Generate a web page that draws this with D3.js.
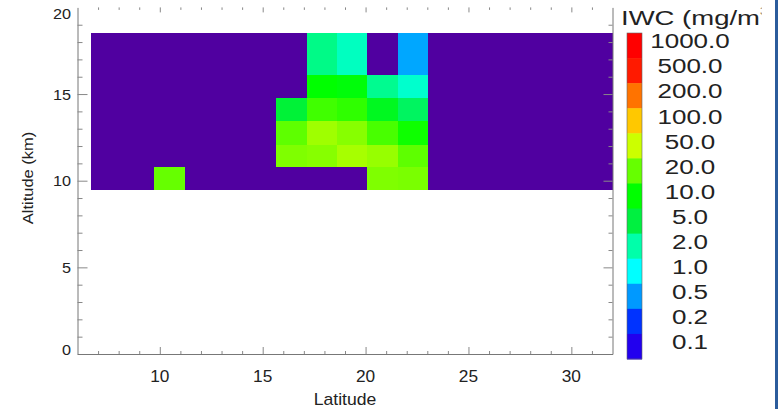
<!DOCTYPE html>
<html>
<head>
<meta charset="utf-8">
<script src="https://cdn.jsdelivr.net/npm/d3@7"></script>
<style>
body { margin: 0; background: #fff; }
svg text { font-family: "Liberation Sans", Arial, sans-serif; fill: #222; }
</style>
</head>
<body>
<div id="chart"></div>
<script>
// latitude / altitude cell edges
var latEdges = [6.65, 8.2, 9.7, 11.2, 12.68, 14.17, 15.65, 17.14, 18.62, 20.08, 21.59, 23.05, 24.55, 26.05, 27.5, 28.97, 30.47, 32.0];
var altEdges = [9.5, 10.8, 12.1, 13.5, 14.8, 16.1, 18.55];

// IWC (mg/m3) per cell, bottom row first, 0 = below scale
var iwcRow0 = [0, 0, 20, 0, 0, 0, 0, 0, 0, 25, 24, 0, 0, 0, 0, 0, 0];
var iwcRow1 = [0, 0, 0, 0, 0, 0, 25, 27, 36, 31, 19, 0, 0, 0, 0, 0, 0];
var iwcRow2 = [0, 0, 0, 0, 0, 0, 19, 33.5, 27, 16.3, 11, 0, 0, 0, 0, 0, 0];
var iwcRow3 = [0, 0, 0, 0, 0, 0, 5.5, 15.5, 13.8, 7.1, 3.8, 0, 0, 0, 0, 0, 0];
var iwcRow4 = [0, 0, 0, 0, 0, 0, 0, 10, 9, 2.5, 1.5, 0, 0, 0, 0, 0, 0];
var iwcRow5 = [0, 0, 0, 0, 0, 0, 0, 2.7, 1.67, 0, 0.55, 0, 0, 0, 0, 0, 0];
var iwcRows = [iwcRow0, iwcRow1, iwcRow2, iwcRow3, iwcRow4, iwcRow5];

// colour bar levels, top to bottom
var levels = [1000, 500, 200, 100, 50, 20, 10, 5, 2, 1, 0.5, 0.2, 0.1];
var levelLabels = ["1000.0", "500.0", "200.0", "100.0", "50.0", "20.0", "10.0", "5.0", "2.0", "1.0", "0.5", "0.2", "0.1"];
var levelColors = ["#ff0000", "#ff1a00", "#ff7300", "#ffc800", "#ccff00", "#66ff00", "#00ff00", "#00f040", "#00ffaa", "#00ffff", "#0099ff", "#0033ff", "#2200ee"];
var lowColor = "#5000a0";

var xMajor = [10, 15, 20, 25, 30];
var yMajor = [0, 5, 10, 15];
var yLabels = [0, 5, 10, 15, 20];

var W = 779, H = 409;
var svg = d3.select("#chart").append("svg").attr("width", W).attr("height", H);

var x = d3.scaleLinear().domain([6, 32]).range([77.5, 612.5]);
var y = d3.scaleLinear().domain([0, 20]).range([354, 7.4]);
var color = d3.scaleLog().domain(levels.slice().reverse()).range(levelColors.slice().reverse()).clamp(true);

var xMinor = d3.range(7, 32).filter(function(v) { return xMajor.indexOf(v) < 0; });
var yMinor = d3.range(1, 20).filter(function(v) { return yMajor.indexOf(v) < 0; });

function stretchText(g, px, py, str, size, sx, anchor) {
	return g.append("text")
		.attr("transform", "translate(" + px + "," + py + ") scale(" + sx + ",1)")
		.attr("text-anchor", anchor)
		.style("font-size", size + "px")
		.text(str);
}

// cells
var cells = [];
iwcRows.forEach(function(row, r) {
	row.forEach(function(v, c) {
		cells.push({ x0: latEdges[c], x1: latEdges[c + 1], y0: altEdges[r], y1: altEdges[r + 1], v: v });
	});
});
var cellFill = function(d) { return d.v > 0 ? color(d.v) : lowColor; };
svg.append("g").attr("shape-rendering", "crispEdges")
	.selectAll("rect").data(cells).enter().append("rect")
	.attr("x", function(d) { return x(d.x0); })
	.attr("y", function(d) { return y(d.y1); })
	.attr("width", function(d) { return x(d.x1) - x(d.x0) + 0.5; })
	.attr("height", function(d) { return y(d.y0) - y(d.y1) + 0.5; })
	.attr("fill", cellFill);

// axes
function styleAxis(g, keepDomain) {
	g.selectAll("line").attr("stroke", "#777");
	g.select(".domain").attr("stroke", keepDomain ? "#777" : "none");
	g.selectAll("text").remove();
}
svg.append("g").attr("transform", "translate(77.5,0)")
	.call(d3.axisLeft(y).tickValues(yMinor).tickSize(-5).tickSizeOuter(0)).call(styleAxis, true);
svg.append("g").attr("transform", "translate(77.5,0)")
	.call(d3.axisLeft(y).tickValues(yMajor).tickSize(-10).tickSizeOuter(0)).call(styleAxis, false);
svg.append("g").attr("transform", "translate(612.5,0)")
	.call(d3.axisRight(y).tickValues(yMinor).tickSize(-4).tickSizeOuter(0)).call(styleAxis, true);
svg.append("g").attr("transform", "translate(612.5,0)")
	.call(d3.axisRight(y).tickValues(yMajor).tickSize(-9).tickSizeOuter(0)).call(styleAxis, false);
svg.append("g").attr("transform", "translate(0,354)")
	.call(d3.axisBottom(x).tickValues(xMinor).tickSize(-3).tickSizeOuter(0)).call(styleAxis, true);
svg.append("g").attr("transform", "translate(0,354)")
	.call(d3.axisBottom(x).tickValues(xMajor).tickSize(-7).tickSizeOuter(0)).call(styleAxis, false);
svg.append("g").attr("transform", "translate(0,7.4)")
	.call(d3.axisTop(x).tickValues(xMinor).tickSize(-2.5).tickSizeOuter(0)).call(styleAxis, false);
svg.append("g").attr("transform", "translate(0,7.4)")
	.call(d3.axisTop(x).tickValues(xMajor).tickSize(-5).tickSizeOuter(0)).call(styleAxis, false);
svg.selectAll("g.tick line").attr("stroke", "#888");

// tick labels
var labels = svg.append("g");
yLabels.forEach(function(v) {
	var off = 5.5;
	if (v === 20) off = 12;
	if (v === 0) off = 1;
	stretchText(labels, 71, y(v) + off, String(v), 14.5, 1.12, "end");
});
xMajor.forEach(function(v) {
	stretchText(labels, x(v), 382.3, String(v), 16, 1.08, "middle");
});
stretchText(labels, 345, 405, "Latitude", 16, 1.1, "middle");
labels.append("text")
	.attr("transform", "translate(33,178) rotate(-90) scale(1.1,1)")
	.attr("text-anchor", "middle")
	.style("font-size", "15px")
	.text("Altitude (km)");

// colour bar
var band = d3.scaleBand().domain(levelLabels).range([33, 359]);
var legend = svg.append("g");
legend.selectAll("rect").data(levelLabels).enter().append("rect")
	.attr("x", 627)
	.attr("y", function(d) { return band(d); })
	.attr("width", 15)
	.attr("height", band.bandwidth() + 0.5)
	.attr("fill", function(d, i) { return levelColors[i]; });
legend.append("rect")
	.attr("x", 627).attr("y", 33).attr("width", 15).attr("height", 326)
	.attr("fill", "none").attr("stroke", "#666").attr("stroke-width", 0.6);
levelLabels.forEach(function(t) {
	stretchText(legend, 690, band(t) + 15.3, t, 21, 1.24, "middle");
});

svg.append("clipPath").attr("id", "titleClip")
	.append("rect").attr("x", 600).attr("y", 0).attr("width", 161.5).attr("height", 40);
var title = svg.append("g").attr("clip-path", "url(#titleClip)")
	.append("text")
	.attr("transform", "translate(621,25) scale(1.31,1)")
	.style("font-size", "21px");
title.append("tspan").text("IWC (mg/m");
title.append("tspan").attr("dy", -10).style("font-size", "11px").text("3");

// right frame bar
svg.append("rect").attr("x", 775).attr("y", 0).attr("width", 3).attr("height", H).attr("fill", "#2b5c9c");
</script>
</body>
</html>
